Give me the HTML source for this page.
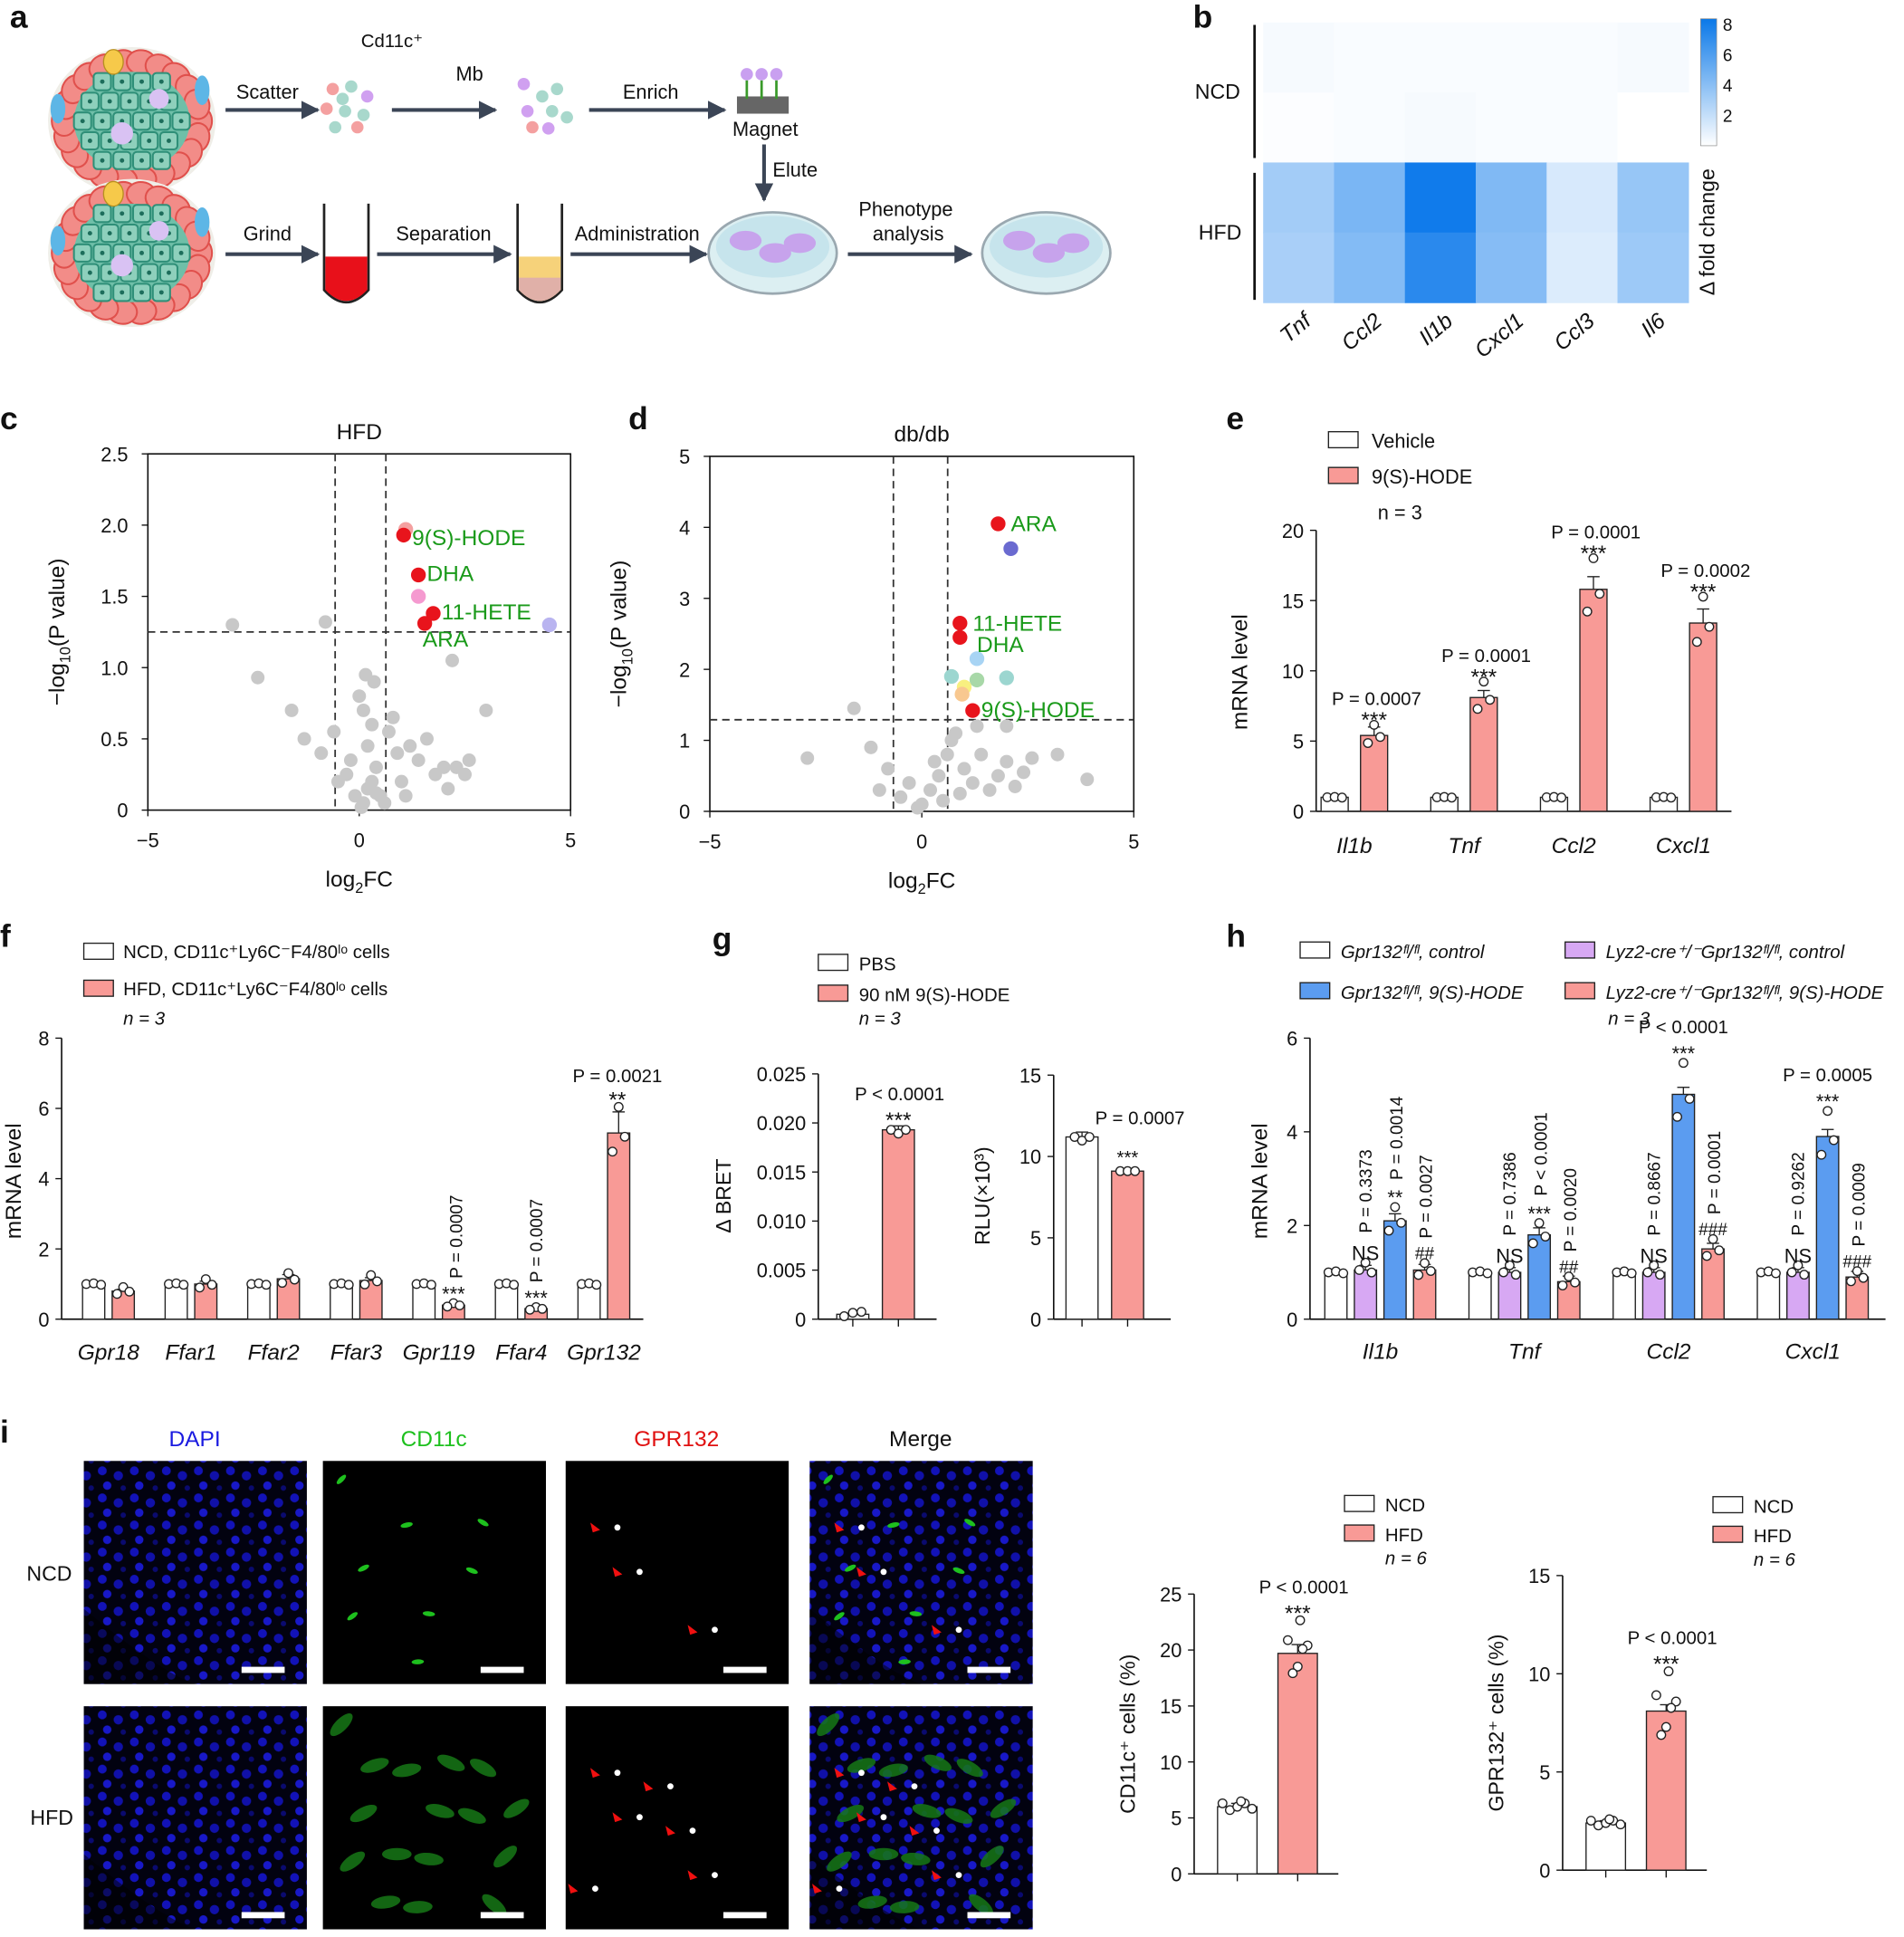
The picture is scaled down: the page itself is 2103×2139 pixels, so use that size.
<!DOCTYPE html>
<html><head><meta charset="utf-8"><style>
html,body{margin:0;padding:0;background:#fff}
svg{display:block;font-family:"Liberation Sans",sans-serif}
</style></head><body>
<svg id="fig" xmlns="http://www.w3.org/2000/svg" width="2103" height="2139" viewBox="0 0 1545 1571">
<defs>
<pattern id="nuc" width="26" height="22" patternUnits="userSpaceOnUse">
<rect width="26" height="22" fill="#020210"/>
<circle cx="5" cy="5" r="3.6" fill="#1212b8"/><circle cx="18" cy="9" r="3.8" fill="#1010a8"/><circle cx="9" cy="17" r="3.4" fill="#1818c8"/><circle cx="22" cy="19" r="2.2" fill="#0a0a70"/>
</pattern>
<marker id="arr" viewBox="0 0 10 10" refX="9" refY="5" markerWidth="5" markerHeight="5" orient="auto"><path d="M0,0L10,5L0,10z" fill="#3b4556"/></marker>
</defs>
<g id="root"></g>
</svg>
<script>
// ---------- DATA ----------
var hmGenes=['Tnf','Ccl2','Il1b','Cxcl1','Ccl3','Il6'];
var hmRows=['NCD','NCD','HFD','HFD'];
var hmNCD1=[0.3,0.2,0.2,0.2,0.2,0.3];
var hmNCD2=[0.1,0.2,0.3,0.2,0.2,0.0];
var hmHFD1=[3.2,4.6,8.3,4.4,1.4,3.6];
var hmHFD2=[3.0,4.3,7.4,4.2,1.2,3.4];
var hmTicks=[2,4,6,8];

var cGrayX=[-3,-2.4,-1.6,-1.3,-0.8,-0.9,-0.6,-0.3,-0.5,-0.2,0,0.1,0.2,0.3,0.4,0.5,0.6,0.7,0.8,0.9,1.0,1.2,1.4,1.6,1.8,2.0,2.1,2.3,2.5,2.2,3.0,0.1,0.2,-0.1,0.3,0.15,0.35,0.05,0.4,1.1,2.6];
var cGrayY=[1.3,0.93,0.7,0.5,1.32,0.4,0.55,0.25,0.2,0.35,0.8,0.7,0.45,0.6,0.3,0.1,0.05,0.55,0.65,0.4,0.2,0.45,0.35,0.5,0.25,0.3,0.15,0.3,0.25,1.05,0.7,0.05,0.15,0.1,0.2,0.95,0.9,0.02,0.12,0.1,0.35];
var cHitX=[1.1,1.05,1.4,1.4,1.75,1.55,4.5];
var cHitY=[1.97,1.93,1.65,1.5,1.38,1.31,1.3];
var cHitCol=['#f4a0a0','#e8141c','#e8141c','#f59ad0','#e8141c','#e8141c','#b9b4f0'];
var cLabels=['9(S)-HODE','DHA','11-HETE','ARA'];
var cLabX=[1.25,1.6,1.95,1.5];
var cLabY=[1.91,1.66,1.39,1.2];

var dGrayX=[-2.7,-1.6,-1.2,-1,-0.8,-0.5,-0.3,0,0.2,0.4,0.6,0.7,0.8,1,1.2,1.4,1.6,1.8,2.0,2.2,2.6,3.2,3.9,2.4,0.5,0.9,-0.1,1.3,2.0,0.3];
var dGrayY=[0.75,1.45,0.9,0.3,0.6,0.2,0.4,0.1,0.3,0.5,0.8,1.0,1.1,0.6,0.4,0.8,0.3,0.5,0.7,0.35,0.75,0.8,0.45,0.55,0.15,0.25,0.05,1.2,1.2,0.7];
var dHitX=[1.8,2.1,0.9,0.9,1.3,0.7,1.3,2.0,1.0,0.95,1.2];
var dHitY=[4.05,3.7,2.65,2.45,2.15,1.9,1.85,1.88,1.75,1.65,1.42];
var dHitCol=['#e8141c','#6a6ad0','#e8141c','#e8141c','#a8d4f4','#9cd6d0','#a8d8a8','#9cd6d0','#f8f080','#f8c890','#e8141c'];
var dLabels=['ARA','11-HETE','DHA','9(S)-HODE'];
var dLabX=[2.1,1.2,1.3,1.4];
var dLabY=[4.05,2.65,2.35,1.43];

var eCats=['Il1b','Tnf','Ccl2','Cxcl1'];
var eVeh=[1,1,1,1];
var eHode=[5.4,8.1,15.8,13.4];
var eErr=[0.6,0.5,0.9,1.0];
var eP=['P = 0.0007','P = 0.0001','P = 0.0001','P = 0.0002'];
var eTicks=[0,5,10,15,20];

var fCats=['Gpr18','Ffar1','Ffar2','Ffar3','Gpr119','Ffar4','Gpr132'];
var fNCD=[1.0,1.0,1.0,1.0,1.0,1.0,1.0];
var fHFD=[0.8,1.0,1.15,1.1,0.4,0.3,5.3];
var fErr=[0.05,0.08,0.12,0.08,0.06,0.07,0.6];
var fTicks=[0,2,4,6,8];

var gBretVals=[0.0005,0.0193];
var gRluVals=[11.2,9.1];
var gBretTicks=[0,0.005,0.010,0.015,0.020,0.025];
var gRluTicks=[0,5,10,15];

var hCats=['Il1b','Tnf','Ccl2','Cxcl1'];
var hCtl=[1.0,1.0,1.0,1.0];
var hLyzCtl=[1.05,1.0,1.0,1.0];
var hHode=[2.1,1.8,4.8,3.9];
var hLyzHode=[1.05,0.8,1.5,0.9];
var hTicks=[0,2,4,6];

var iCd11c=[6.0,19.7];
var iGpr=[2.4,8.1];
var iCdTicks=[0,5,10,15,20,25];
var iGprTicks=[0,5,10,15];

// ---------- HELPERS ----------
var NS='http://www.w3.org/2000/svg';
var root=document.getElementById('root');
function mk(tag,attrs,parent){var e=document.createElementNS(NS,tag);for(var k in attrs)e.setAttribute(k,attrs[k]);(parent||root).appendChild(e);return e;}
function tx(x,y,s,size,anchor,parent,extra){var e=mk('text',Object.assign({x:x,y:y,'font-size':size||16,'text-anchor':anchor||'middle',fill:'#111'},extra||{}),parent);e.textContent=s;return e;}
function lin(d0,d1,r0,r1){return function(v){return r0+(v-d0)/(d1-d0)*(r1-r0);};}

['a',8,22,'b',968,22,'c',0,348,'d',510,348,'e',995,348,'f',0,768,'g',578,770,'h',995,768,'i',0,1170].forEach(function(v,i,a){
 if(i%3===0){var t=tx(a[i+1],a[i+2],v,26,'start',null,{'font-weight':'bold'});
 
 }
});

// ---------- PANEL A ----------
var ga=mk('g',{});


function tissue(cx,cy){
 mk('ellipse',{cx:cx,cy:cy,rx:68,ry:60,fill:'#efeee8'},ga);
 for(var a=0;a<22;a++){var t=a/22*Math.PI*2;mk('ellipse',{cx:cx+55*Math.cos(t),cy:cy+48*Math.sin(t),rx:10,ry:12,fill:'#f28c88',stroke:'#e0504c','stroke-width':1.5,transform:'rotate('+(t*57)+' '+(cx+55*Math.cos(t))+' '+(cy+48*Math.sin(t))+')'},ga);}
 mk('ellipse',{cx:cx,cy:cy,rx:47,ry:40,fill:'#6fbfa8'},ga);
 for(var i=0;i<6;i++)for(var j=0;j<5;j++){var x=cx-40+i*16+(j%2)*6,y=cy-32+j*16;if(((x-cx)/46)*((x-cx)/46)+((y-cy)/38)*((y-cy)/38)<1){mk('rect',{x:x-7,y:y-7,width:14,height:14,rx:3,fill:'#8ed0bc',stroke:'#2f8f78','stroke-width':1.5},ga);mk('circle',{cx:x,cy:y,r:1.8,fill:'#1d6d5b'},ga);}}
 mk('circle',{cx:cx-8,cy:cy+10,r:9,fill:'#d9c2f3'},ga);mk('circle',{cx:cx+22,cy:cy-18,r:8,fill:'#d9c2f3'},ga);
 mk('ellipse',{cx:cx-15,cy:cy-48,rx:8,ry:10,fill:'#f6c94a',stroke:'#b89020'},ga);
 mk('ellipse',{cx:cx-60,cy:cy-10,rx:6,ry:12,fill:'#5db6e6'},ga);mk('ellipse',{cx:cx+57,cy:cy-25,rx:6,ry:12,fill:'#5db6e6'},ga);
}
tissue(107,98);tissue(107,205);
function arrow(x1,y1,x2,y2){mk('line',{x1:x1,y1:y1,x2:x2,y2:y2,stroke:'#3b4556','stroke-width':3,'marker-end':'url(#arr)'},ga);}
arrow(183,89,258,89);arrow(318,89,402,89);arrow(478,89,588,89);arrow(620,117,620,162);
arrow(183,206,258,206);arrow(306,206,414,206);arrow(463,206,573,206);arrow(688,206,788,206);
tx(217,80,'Scatter',16,'middle',ga);tx(318,38,'Cd11c\u207A',15,'middle',ga);tx(381,65,'Mb',16,'middle',ga);
tx(528,80,'Enrich',16,'middle',ga);tx(621,110,'Magnet',16,'middle',ga);tx(627,143,'Elute',16,'start',ga);
tx(217,195,'Grind',16,'middle',ga);tx(360,195,'Separation',16,'middle',ga);tx(517,195,'Administration',16,'middle',ga);
tx(735,175,'Phenotype',16,'middle',ga);tx(737,195,'analysis',16,'middle',ga);
[[270,72,'#f4a0a0'],[285,70,'#a8d8cc'],[298,78,'#d0a0f0'],[265,88,'#f4a0a0'],[280,90,'#a8d8cc'],[295,93,'#a8d8cc'],[272,103,'#a8d8cc'],[290,103,'#f4a0a0'],[278,80,'#a8d8cc']].forEach(function(c){mk('circle',{cx:c[0],cy:c[1],r:5,fill:c[2]},ga);});
[[440,78,'#a8d8cc'],[452,72,'#a8d8cc'],[428,90,'#d0a0f0'],[448,90,'#a8d8cc'],[460,95,'#a8d8cc'],[432,103,'#f4a0a0'],[445,104,'#d0a0f0'],[425,68,'#d0a0f0']].forEach(function(c){mk('circle',{cx:c[0],cy:c[1],r:5,fill:c[2]},ga);});
mk('rect',{x:598,y:78,width:42,height:14,fill:'#666'},ga);
[606,618,630].forEach(function(x){mk('circle',{cx:x,cy:60,r:5,fill:'#c9a0f0'},ga);mk('line',{x1:x,y1:65,x2:x,y2:80,stroke:'#3a9a2a','stroke-width':2},ga);});
function tube(x,fill,fill2){mk('path',{d:'M'+(x-18)+',165 L'+(x-18)+',235 Q'+x+',255 '+(x+18)+',235 L'+(x+18)+',165',fill:'none',stroke:'#222','stroke-width':2},ga);
 mk('path',{d:'M'+(x-17)+',208 L'+(x-17)+',235 Q'+x+',253 '+(x+17)+',235 L'+(x+17)+',208 Z',fill:fill},ga);
 if(fill2)mk('path',{d:'M'+(x-17)+',225 L'+(x-17)+',235 Q'+x+',253 '+(x+17)+',235 L'+(x+17)+',225 Z',fill:fill2},ga);}
tube(281,'#e8101a');tube(438,'#f6d27a','#e0b0a8');
function dish(cx){mk('ellipse',{cx:cx,cy:205,rx:52,ry:33,fill:'#dceff2',stroke:'#9aa8b0','stroke-width':2},ga);
 mk('ellipse',{cx:cx,cy:200,rx:46,ry:25,fill:'#c6e4ec'},ga);
 [[-22,-5],[2,5],[22,-3]].forEach(function(o){mk('ellipse',{cx:cx+o[0],cy:200+o[1],rx:13,ry:8,fill:'#c7a3ec'},ga);});}
dish(627);dish(849);

// ---------- PANEL B heatmap ----------
var gb=mk('g',{});


var hx0=1025,hcw=57.5,hy0=18,hrh=56.8;
function hcol(v){var t=Math.max(0,Math.min(1,v/8.5));var r=Math.round(255-(255-10)*t),g=Math.round(255-(255-120)*t),b=Math.round(255-(255-232)*t*0.9);return 'rgb('+r+','+g+','+b+')';}
var hmData=[hmNCD1,hmNCD2,hmHFD1,hmHFD2];
hmData.forEach(function(row,ri){row.forEach(function(v,ci){
 var c=mk('rect',{x:hx0+ci*hcw,y:hy0+ri*hrh,width:hcw+0.5,height:hrh+0.5,fill:hcol(v)},gb);
 
 });});
hmGenes.forEach(function(g,i){tx(0,0,g,18,'end',gb,{transform:'translate('+(hx0+i*hcw+40)+',262) rotate(-40)','font-style':'italic'});});
mk('line',{x1:1018,y1:20,x2:1018,y2:128,stroke:'#111','stroke-width':2},gb);
mk('line',{x1:1018,y1:140,x2:1018,y2:243,stroke:'#111','stroke-width':2},gb);
tx(988,80,'NCD',17,'middle',gb);tx(990,194,'HFD',17,'middle',gb);
var cb=mk('linearGradient',{id:'cbg',x1:0,y1:1,x2:0,y2:0},gb);
mk('stop',{offset:0,'stop-color':'#ffffff'},cb);mk('stop',{offset:1,'stop-color':'#0a78e8'},cb);
mk('rect',{x:1380,y:15,width:13,height:103,fill:'url(#cbg)',stroke:'#888','stroke-width':0.5},gb);
var cbY=lin(0,8.4,118,15);
hmTicks.forEach(function(t){tx(1398,cbY(t)+5,String(t),14,'start',gb);});
tx(0,0,'\u0394 fold change',17,'middle',gb,{transform:'translate(1391,188) rotate(-90)'});

// ---------- VOLCANO ----------
function volcano(name,x0,x1,y0,y1,ymax,yticks,vx,hy,gx,gy,hx,hyv,hc,labs,lx,ly,title){
 var g=mk('g',{});
 
 
 var X=lin(-5,5,x0,x1),Y=lin(0,ymax,y1,y0);
 mk('rect',{x:x0,y:y0,width:x1-x0,height:y1-y0,fill:'none',stroke:'#111','stroke-width':1.2},g);
 [-5,0,5].forEach(function(t){mk('line',{x1:X(t),y1:y1,x2:X(t),y2:y1+5,stroke:'#111'},g);tx(X(t),y1+30,t<0?'\u2212'+(-t):String(t),16,'middle',g);});
 yticks.forEach(function(t){mk('line',{x1:x0-5,y1:Y(t),x2:x0,y2:Y(t),stroke:'#111'},g);tx(x0-16,Y(t)+6,(ymax<3&&t!==0)?t.toFixed(1):String(t),16,'end',g);});
 vx.forEach(function(v){mk('line',{x1:X(v),y1:y0,x2:X(v),y2:y1,stroke:'#333','stroke-dasharray':'6,4','stroke-width':1.3},g);});
 mk('line',{x1:x0,y1:Y(hy),x2:x1,y2:Y(hy),stroke:'#333','stroke-dasharray':'6,4','stroke-width':1.3},g);
 gx.forEach(function(v,i){var c=mk('circle',{cx:X(v),cy:Y(gy[i]),r:5.5,fill:'#c8c8c8'},g);
  
  });
 hx.forEach(function(v,i){var c=mk('circle',{cx:X(v),cy:Y(hyv[i]),r:6,fill:hc[i]},g);
  
  });
 labs.forEach(function(s,i){tx(X(lx[i]),Y(ly[i])+6,s,18,'start',g,{fill:'#1a9a1a'});});
 tx((x0+x1)/2,y0-12,title,18,'middle',g);
 var t=tx((x0+x1)/2,y1+62,'log',18,'middle',g);
 var s1=mk('tspan',{'font-size':12,dy:5},t);s1.textContent='2';var s2=mk('tspan',{dy:-5},t);s2.textContent='FC';
 var yl=tx(0,0,'\u2212log',18,'middle',g,{transform:'translate('+(x0-68)+','+((y0+y1)/2)+') rotate(-90)'});
 var a=mk('tspan',{'font-size':12,dy:5},yl);a.textContent='10';var b=mk('tspan',{dy:-5},yl);b.textContent='(P value)';
}
volcano('volcano-hfd',120,463,368,657,2.5,[0,0.5,1.0,1.5,2.0,2.5],[-0.57,0.63],1.25,cGrayX,cGrayY,cHitX,cHitY,cHitCol,cLabels,cLabX,cLabY,'HFD');
volcano('volcano-dbdb',576,920,370,658,5,[0,1,2,3,4,5],[-0.67,0.61],1.29,dGrayX,dGrayY,dHitX,dHitY,dHitCol,dLabels,dLabX,dLabY,'db/db');

// ---------- BAR HELPERS ----------
function axisY(g,x,y0,y1,Y,ticks,fmt){mk('line',{x1:x,y1:y0,x2:x,y2:y1,stroke:'#111','stroke-width':1.2},g);
 ticks.forEach(function(t){mk('line',{x1:x-5,y1:Y(t),x2:x,y2:Y(t),stroke:'#111'},g);tx(x-10,Y(t)+6,fmt?fmt(t):String(t),16,'end',g);});}
function bar(g,cx,w,v,Y,fill,name,err,dots){
 var r=mk('rect',{x:cx-w/2,y:Y(v),width:w,height:Y(0)-Y(v),fill:fill,stroke:'#222','stroke-width':1},g);
 
 
 if(err){mk('line',{x1:cx,y1:Y(v),x2:cx,y2:Y(v+err),stroke:'#222'},g);mk('line',{x1:cx-5,y1:Y(v+err),x2:cx+5,y2:Y(v+err),stroke:'#222'},g);}
 var top=Y(v+(err||0));
 (dots||[]).forEach(function(d){var yy=Y(v*d[1]);top=Math.min(top,yy-4);mk('circle',{cx:cx+d[0],cy:yy,r:3.5,fill:'#fff',stroke:'#222'},g);});
 return top;
}
var dots3=[[-6,1.0],[0,1.02],[6,0.98]];
var dots3b=[[0,1.14],[-5,0.9],[5,0.98]];

// ---------- PANEL E ----------
(function(){var g=mk('g',{});
 
 
 var Y=lin(0,20,658,430);axisY(g,1068,430,658,Y,eTicks);
 mk('line',{x1:1068,y1:658,x2:1405,y2:658,stroke:'#111','stroke-width':1.2},g);
 eCats.forEach(function(c,i){var cx=1099+i*89;
  bar(g,cx-16,22,eVeh[i],Y,'#fff','bar-vehicle-'+c.toLowerCase(),0.05,dots3);
  var top=bar(g,cx+16,22,eHode[i],Y,'#f89a96','bar-hode-'+c.toLowerCase(),eErr[i],dots3b);
  tx(cx,692,c,18,'middle',g,{'font-style':'italic'});
  tx(cx+16,top+6,'***',18,'middle',g);
  tx(cx+18,top-12,eP[i],15,'middle',g);});
 tx(0,0,'mRNA level',18,'middle',g,{transform:'translate(1012,545) rotate(-90)'});
 mk('rect',{x:1078,y:350,width:24,height:13,fill:'#fff',stroke:'#222'},g);tx(1113,363,'Vehicle',16,'start',g);
 mk('rect',{x:1078,y:379,width:24,height:13,fill:'#f89a96',stroke:'#222'},g);tx(1113,392,'9(S)-HODE',16,'start',g);
 tx(1118,421,'n = 3',16,'start',g);})();

// ---------- PANEL F ----------
(function(){var g=mk('g',{});
 
 
 var Y=lin(0,8,1070,842);axisY(g,50,842,1070,Y,fTicks);
 mk('line',{x1:50,y1:1070,x2:522,y2:1070,stroke:'#111','stroke-width':1.2},g);
 var tops=[];
 fCats.forEach(function(c,i){var cx=88+i*67;
  bar(g,cx-12,18,fNCD[i],Y,'#fff','bar-ncd-'+c.toLowerCase(),0.05,dots3);
  tops.push(bar(g,cx+12,18,fHFD[i],Y,'#f89a96','bar-hfd-'+c.toLowerCase(),fErr[i],dots3b));
  tx(cx,1103,c,18,'middle',g,{'font-style':'italic'});});
 tx(368,tops[4]+2,'***',16,'middle',g);tx(0,0,'P = 0.0007',14,'start',g,{transform:'translate(375,'+(tops[4]-16)+') rotate(-90)'});
 tx(435,tops[5]+2,'***',16,'middle',g);tx(0,0,'P = 0.0007',14,'start',g,{transform:'translate(440,'+(tops[5]-16)+') rotate(-90)'});
 tx(501,tops[6]+4,'**',18,'middle',g);tx(501,tops[6]-16,'P = 0.0021',15,'middle',g);
 tx(0,0,'mRNA level',18,'middle',g,{transform:'translate(17,958) rotate(-90)'});
 mk('rect',{x:68,y:765,width:24,height:13,fill:'#fff',stroke:'#222'},g);tx(100,777,'NCD, CD11c\u207ALy6C\u207BF4/80\u02E1\u1D52 cells',15,'start',g);
 mk('rect',{x:68,y:795,width:24,height:13,fill:'#f89a96',stroke:'#222'},g);tx(100,807,'HFD, CD11c\u207ALy6C\u207BF4/80\u02E1\u1D52 cells',15,'start',g);
 tx(100,831,'n = 3',15,'start',g,{'font-style':'italic'});})();

// ---------- PANEL G ----------
(function(){var g=mk('g',{});
 
 
 var Y=lin(0,0.025,1070,871);axisY(g,664,871,1070,Y,gBretTicks,function(t){return t===0?'0':t.toFixed(3);});
 mk('line',{x1:664,y1:1070,x2:760,y2:1070,stroke:'#111','stroke-width':1.2},g);
 bar(g,692,26,gBretVals[0],Y,'#fff','bar-bret-pbs',0,[[-7,0.6],[0,1.3],[7,1.5]]);
 var t1=bar(g,729,26,gBretVals[1],Y,'#f89a96','bar-bret-hode',0.0004,[[-6,1.0],[0,0.98],[6,1.0]]);
 [692,729].forEach(function(x){mk('line',{x1:x,y1:1070,x2:x,y2:1076,stroke:'#111'},g);});
 tx(729,t1+2,'***',18,'middle',g);tx(730,t1-20,'P < 0.0001',15,'middle',g);
 tx(0,0,'\u0394 BRET',17,'middle',g,{transform:'translate(593,970) rotate(-90)'});
 var Y2=lin(0,15,1070,872);axisY(g,855,872,1070,Y2,gRluTicks);
 mk('line',{x1:855,y1:1070,x2:950,y2:1070,stroke:'#111','stroke-width':1.2},g);
 bar(g,878,26,gRluVals[0],Y2,'#fff','bar-rlu-pbs',0.3,[[-6,1.0],[0,0.98],[6,1.0]]);
 var t2=bar(g,915,26,gRluVals[1],Y2,'#f89a96','bar-rlu-hode',0.05,[[-6,1.0],[0,1.0],[6,1.0]]);
 [878,915].forEach(function(x){mk('line',{x1:x,y1:1070,x2:x,y2:1076,stroke:'#111'},g);});
 tx(915,t2-2,'***',15,'middle',g);tx(925,912,'P = 0.0007',15,'middle',g);
 tx(0,0,'RLU(\u00D710\u00B3)',17,'middle',g,{transform:'translate(803,970) rotate(-90)'});
 mk('rect',{x:664,y:774,width:24,height:13,fill:'#fff',stroke:'#222'},g);tx(697,787,'PBS',15,'start',g);
 mk('rect',{x:664,y:799,width:24,height:13,fill:'#f89a96',stroke:'#222'},g);tx(697,812,'90 nM 9(S)-HODE',15,'start',g);
 tx(697,831,'n = 3',15,'start',g,{'font-style':'italic'});})();

// ---------- PANEL H ----------
(function(){var g=mk('g',{});
 
 
 var Y=lin(0,6,1070,842);axisY(g,1063,842,1070,Y,hTicks);
 mk('line',{x1:1063,y1:1070,x2:1530,y2:1070,stroke:'#111','stroke-width':1.2},g);
 var pNS=['P = 0.3373','P = 0.7386','P = 0.8667','P = 0.9262'];
 var pH=['P = 0.0014','P < 0.0001','P < 0.0001','P = 0.0005'];
 var pL=['P = 0.0027','P = 0.0020','P = 0.0001','P = 0.0009'];
 var hashes=['##','##','###','###'];
 hCats.forEach(function(c,i){var cx=1120+i*117;
  bar(g,cx-36,18,hCtl[i],Y,'#fff','bar-ctl-'+c.toLowerCase(),0.04,dots3);
  var tN=bar(g,cx-12,18,hLyzCtl[i],Y,'#d7a8f3','bar-lyz-ctl-'+c.toLowerCase(),0.1,[[-5,1.0],[0,1.15],[5,0.95]]);
  var tH=bar(g,cx+12,18,hHode[i],Y,'#5b9cf0','bar-hode-'+c.toLowerCase(),0.15,dots3b);
  var tL=bar(g,cx+36,18,hLyzHode[i],Y,'#f89a96','bar-lyz-hode-'+c.toLowerCase(),0.12,dots3b);
  tx(cx,1102,c,18,'middle',g,{'font-style':'italic'});
  tx(cx-12,tN+2,'NS',16,'middle',g);
  tx(0,0,pNS[i],14,'start',g,{transform:'translate('+(cx-7)+','+(tN-20)+') rotate(-90)'});
  tx(cx+12,tH+2,i===0?'**':'***',16,'middle',g);
  if(i>=2){tx(cx+12,tH-20,pH[i],15,'middle',g);}
  else tx(0,0,pH[i],14,'start',g,{transform:'translate('+(cx+18)+','+(tH-18)+') rotate(-90)'});
  tx(cx+36,tL+1,hashes[i],14,'middle',g);
  tx(0,0,pL[i],14,'start',g,{transform:'translate('+(cx+42)+','+(tL-16)+') rotate(-90)'});});
 tx(0,0,'mRNA level',18,'middle',g,{transform:'translate(1028,958) rotate(-90)'});
 var L=[[1055,764,'#fff','Gpr132\u1da0\u02e1/\u1da0\u02e1, control'],[1055,797,'#5b9cf0','Gpr132\u1da0\u02e1/\u1da0\u02e1, 9(S)-HODE'],[1270,764,'#d7a8f3','Lyz2-cre\u207A/\u207BGpr132\u1da0\u02e1/\u1da0\u02e1, control'],[1270,797,'#f89a96','Lyz2-cre\u207A/\u207BGpr132\u1da0\u02e1/\u1da0\u02e1, 9(S)-HODE']];
 L.forEach(function(l){mk('rect',{x:l[0],y:l[1],width:24,height:13,fill:l[2],stroke:'#222'},g);tx(l[0]+33,l[1]+13,l[3],15,'start',g,{'font-style':'italic'});});
 tx(1305,831,'n = 3',15,'start',g,{'font-style':'italic'});})();

// ---------- PANEL I images ----------
(function(){var g=mk('g',{});
 
 
 var cols=[68,262,459,657],rows=[1185,1384],w=181,h=181;
 ['DAPI','CD11c','GPR132','Merge'].forEach(function(s,i){tx(cols[i]+90,1173,s,18,'middle',g,{fill:['#1a1ae0','#1ec01e','#e01010','#111'][i]});});
 tx(40,1282,'NCD',17,'middle',g);tx(42,1480,'HFD',17,'middle',g);
 rows.forEach(function(y,ri){cols.forEach(function(x,ci){
  var r=mk('rect',{x:x,y:y,width:w,height:h,fill:(ci===0||ci===3)?'url(#nuc)':'#000'},g);
  
  
  if(ci===0||ci===3){mk('path',{d:'M'+x+','+(y+h)+' L'+x+','+(y+120)+' Q'+(x+60)+','+(y+170)+' '+(x+90)+','+(y+h)+' Z',fill:'#000',opacity:0.5},g);}
  if(ci===1||ci===3){var n=ri?16:8;for(var k=0;k<n;k++){mk('ellipse',{cx:x+15+(k*53)%150,cy:y+15+(k*37)%150,rx:ri?12:5,ry:ri?5:2,fill:ri?'#167816':'#1ec01e',opacity:ri?0.85:1,transform:'rotate('+(k*33%90-45)+' '+(x+15+(k*53)%150)+' '+(y+15+(k*37)%150)+')'},g);}}
  if(ci===2||ci===3){var m=ri?6:3;for(var k=0;k<m;k++){var px=x+20+(k*61+40)%140,py=y+30+(k*47+60)%130;mk('circle',{cx:px,cy:py,r:2.5,fill:'#fff'},g);mk('path',{d:'M'+(px-14)+','+(py+2)+' l-8,-6 l2,8 z',fill:'#f01010'},g);}}
  mk('rect',{x:x+128,y:y+h-14,width:35,height:5,fill:'#fff'},g);});});})();

// ---------- PANEL I charts ----------
function smallChart(name,ax,y0,y1,ymax,ticks,vals,ylabel,pLabel,legY,spread){
 var g=mk('g',{});
 
 
 var Y=lin(0,ymax,y1,y0);axisY(g,ax,y0,y1,Y,ticks);
 mk('line',{x1:ax,y1:y1,x2:ax+117,y2:y1,stroke:'#111','stroke-width':1.2},g);
 var c1=ax+35,c2=ax+84;
 bar(g,c1,32,vals[0],Y,'#fff','bar-ncd',vals[0]*0.05,[[-12,1.05],[-6,0.95],[0,1.0],[6,1.05],[12,0.97],[3,1.08]]);
 var top=bar(g,c2,32,vals[1],Y,'#f89a96','bar-hfd',vals[1]*0.04,[[-8,1+spread],[0,1-spread],[8,1+spread*0.6],[-4,1-spread*1.5],[4,1.02],[2,1+spread*2.5]]);
 [c1,c2].forEach(function(x){mk('line',{x1:x,y1:y1,x2:x,y2:y1+6,stroke:'#111'},g);});
 tx(c2,top+4,'***',18,'middle',g);tx(c2+5,top-18,pLabel,15,'middle',g);
 tx(0,0,ylabel,17,'middle',g,{transform:'translate('+(ax-48)+','+((y0+y1)/2)+') rotate(-90)'});
 mk('rect',{x:ax+122,y:legY,width:24,height:13,fill:'#fff',stroke:'#222'},g);tx(ax+155,legY+13,'NCD',15,'start',g);
 mk('rect',{x:ax+122,y:legY+24,width:24,height:13,fill:'#f89a96',stroke:'#222'},g);tx(ax+155,legY+37,'HFD',15,'start',g);
 tx(ax+155,legY+56,'n = 6',15,'start',g,{'font-style':'italic'});
}
smallChart('bar-chart-cd11c',969,1293,1520,25,iCdTicks,iCd11c,'CD11c\u207A cells (%)','P < 0.0001',1213,0.06);
smallChart('bar-chart-gpr132',1268,1278,1517,15,iGprTicks,iGpr,'GPR132\u207A cells (%)','P < 0.0001',1214,0.1);
</script>
</body></html>
